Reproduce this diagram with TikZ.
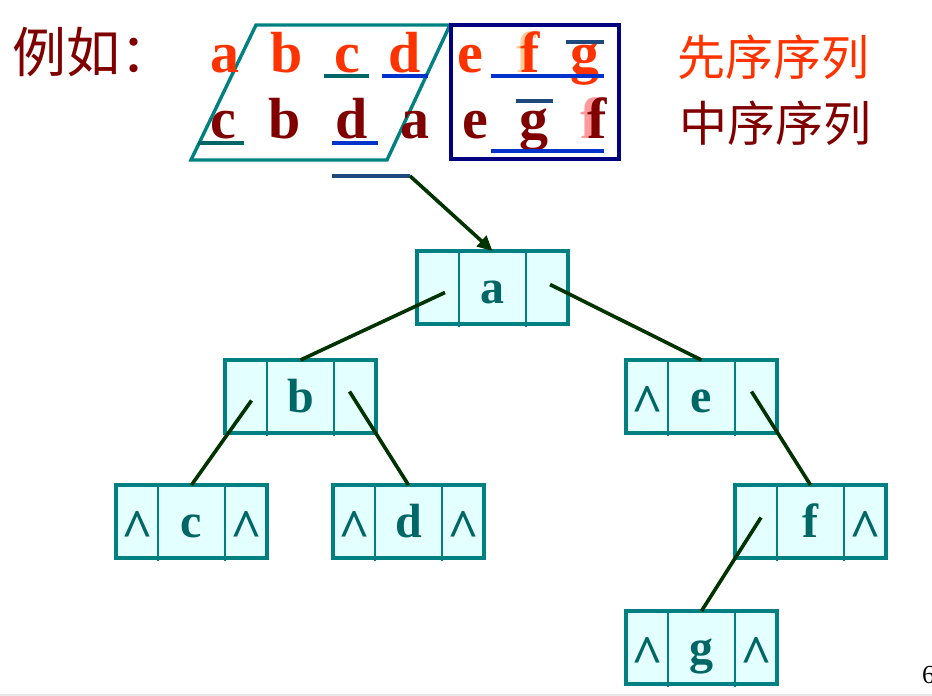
\documentclass[tikz,border=0pt]{standalone}
\usepackage{fontspec}
\setmainfont{Liberation Serif}
\newfontfamily\cjk{Noto Sans CJK SC}
\usetikzlibrary{calc,arrows.meta}
\definecolor{boxfill}{HTML}{E3FFFF}
\definecolor{boxteal}{HTML}{008080}
\definecolor{nodetext}{HTML}{006666}
\definecolor{edgegreen}{HTML}{003300}
\definecolor{orred}{HTML}{FF3300}
\definecolor{darkred}{HTML}{800000}
\definecolor{ulblue}{HTML}{0033CC}
\definecolor{ulteal}{HTML}{006666}
\definecolor{olblue}{HTML}{1F497D}
\definecolor{navy}{HTML}{000080}
\definecolor{peach}{HTML}{FFCC99}
\definecolor{pinkish}{HTML}{FF9999}
\tikzset{
  recbox/.style={draw=boxteal, line width=3.6pt, fill=boxfill, minimum width=151pt,
    minimum height=73pt, inner sep=0pt, outer sep=0pt},
  cell/.style={minimum height=73pt, inner sep=0pt, outer sep=0pt, text height=31pt,
    text depth=0pt, font=\fontsize{48}{48}\selectfont\bfseries, text=nodetext},
  divider/.style={draw=boxteal, line width=1.2pt},
  link/.style={draw=edgegreen, line width=3.6pt},
  toptxt/.style={anchor=base, inner sep=0pt, font=\fontsize{58}{58}\selectfont\bfseries},
  uline/.style={line width=3.6pt},
}
\newcommand\nullptr{\raisebox{-10.5pt}{\fontsize{55}{55}\selectfont\textasciicircum}}
\newcommand\recnode[6]{%
  \node[recbox] (#1) at (#2+75.5,#3+36.5) {};
  \node[cell, minimum width=42pt] (#1L) at ($(#1.west)+(21,0)$) {#4};
  \node[cell, minimum width=67pt] (#1M) at ($(#1.west)+(75.5,0)$) {#5};
  \node[cell, minimum width=42pt] (#1R) at ($(#1.east)+(-21,0)$) {#6};
  \draw[divider] (#1L.north east) -- ($(#1L.south east)+(0,3)$);
  \draw[divider] (#1R.north west) -- ($(#1R.south west)+(0,3)$);
}
\begin{document}
\begin{tikzpicture}[x=1pt,y=-1pt]
\useasboundingbox (0,0) rectangle (932,696);
\fill[gray!18] (0,694) rectangle (932,696);

% heading
\node[anchor=west, inner sep=0pt, text=darkred, font=\cjk\fontsize{54}{54}\selectfont] (ex) at (12,52) {例如：};
\node[inner sep=0pt, text=orred, font=\cjk\fontsize{48}{48}\selectfont] (pre) at (773,57) {先序序列};
\node[inner sep=0pt, text=darkred, font=\cjk\fontsize{48}{48}\selectfont] (mid) at (775,123) {中序序列};

% frames
\draw[boxteal, line width=3.4pt] (256,25) -- (450,25) -- (387,160) -- (191,160) -- cycle;
\draw[navy, line width=3.4pt] (451,25) rectangle (619,159);

% preorder row
\node[toptxt, text=orred] (p1) at (225,72) {a};
\node[toptxt, text=orred] (p2) at (287,72) {b};
\node[toptxt, text=orred] (p3) at (347,72) {c};
\node[toptxt, text=orred] (p4) at (405,72) {d};
\node[toptxt, text=orred] (p5) at (470,72) {e};
\node[toptxt, text=peach] (p6s) at (526,72) {f};
\node[toptxt, text=orred] (p6) at (530,72) {f};
\node[toptxt, text=orred] (p7) at (585,72) {g};

% inorder row
\node[toptxt, text=darkred] (m1) at (223,138) {c};
\node[toptxt, text=darkred] (m2) at (285,138) {b};
\node[toptxt, text=darkred] (m3) at (352,138) {d};
\node[toptxt, text=darkred] (m4) at (415,138) {a};
\node[toptxt, text=darkred] (m5) at (475,138) {e};
\node[toptxt, text=darkred] (m6) at (534,138) {g};
\node[toptxt, text=pinkish] (m7s) at (590,138) {f};
\node[toptxt, text=darkred] (m7) at (597,138) {f};

% under/over lines
\draw[uline, ulteal] (324,76) -- (369,76);
\draw[uline, ulblue] (382,76) -- (428,76);
\draw[uline, ulblue] (491,76) -- (604,76);
\draw[uline, olblue] (566,42) -- (604,42);
\draw[uline, ulteal] (198,143) -- (244,143);
\draw[uline, ulblue] (332,143) -- (378,143);
\draw[uline, olblue] (516,101) -- (553,101);
\draw[uline, ulblue] (491,151) -- (604,151);

% tree nodes
\recnode{a}{417}{251}{}{a}{}
\recnode{b}{225}{360}{}{b}{}
\recnode{c}{116}{485}{\nullptr}{c}{\nullptr}
\recnode{d}{333}{485}{\nullptr}{d}{\nullptr}
\recnode{e}{626}{360}{\nullptr}{e}{}
\recnode{f}{735}{485}{}{f}{\nullptr}
\recnode{g}{626}{611}{\nullptr}{g}{\nullptr}

% root pointer
\coordinate (u1) at (332,176);
\coordinate (u2) at (410,176);
\draw[uline, olblue] (u1) -- (u2);
\draw[link, -{Triangle[length=15pt,width=14pt]}] (u2) -- (aM.north);

% tree links
\draw[link] ($(aL.center)+(7,5)$) -- (bM.north);
\draw[link] ($(aR.center)+(3,-3)$) -- (eM.north);
\draw[link] ($(bL.center)+(5.5,4)$) -- (cM.north);
\draw[link] ($(bR.center)+(-5.5,-5)$) -- (dM.north);
\draw[link] ($(eR.center)+(-4.5,-5)$) -- (fM.north);
\draw[link] ($(fL.center)+(5,-4)$) -- (gM.north);

% page number (cut off at the right edge, as in the reference)
\node[anchor=base west, inner sep=0pt, font=\fontsize{26}{26}\selectfont] (pg) at (922,683) {6};
\end{tikzpicture}
\end{document}
